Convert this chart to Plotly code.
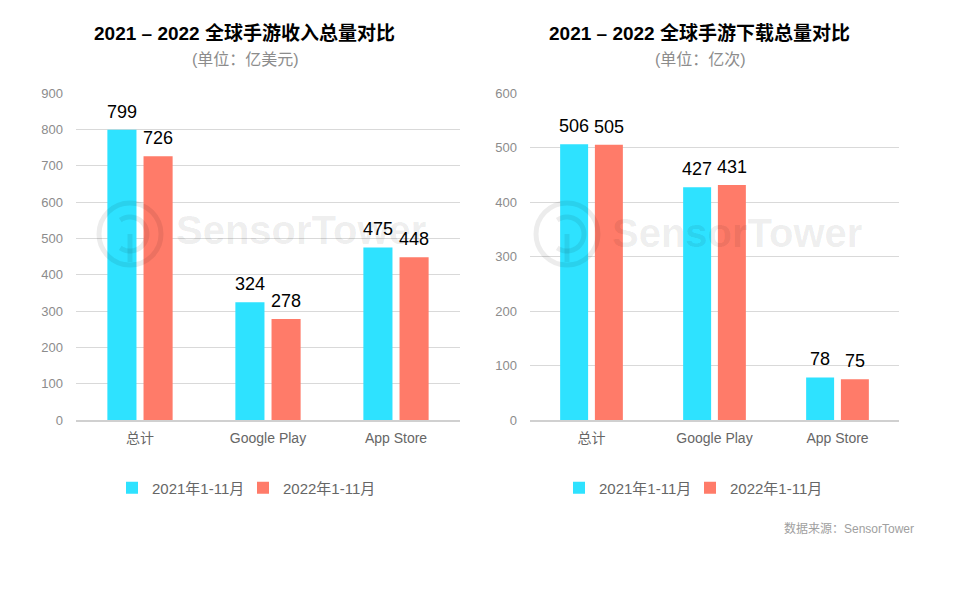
import math
import plotly.graph_objects as go

categories = ["总计", "Google Play", "App Store"]
revenue_2021 = [799, 324, 475]
revenue_2022 = [726, 278, 448]
downloads_2021 = [506, 427, 78]
downloads_2022 = [505, 431, 75]
series_names = ["2021年1-11月", "2022年1-11月"]
rev_ticks = [0, 100, 200, 300, 400, 500, 600, 700, 800, 900]
dl_ticks = [0, 100, 200, 300, 400, 500, 600]

CYAN = "#2EE2FF"
SALMON = "#FF7B69"
FONT = "Arial, 'Liberation Sans', 'Noto Sans CJK SC', sans-serif"
GRAY = "#8c8c8c"
WM = "rgba(0,0,0,0.075)"

W, H = 967, 593
OFF = 8  # page body margin


def px(x):
    return (x - OFF) / W


def py(y):
    return 1 - (y - OFF) / H


fig = go.Figure()

BARGAP, GROUPGAP = 0.435, 0.195
panels = [
    (revenue_2021, revenue_2022, "x", "y", "legend", 384),
    (downloads_2021, downloads_2022, "x2", "y2", "legend2", 369),
]
label_annots = []
for v1, v2, xa, ya, lg, axw in panels:
    slot = axw / 3 * (1 - BARGAP) / 2
    for vals, name, color, sgn in [(v1, series_names[0], CYAN, -1), (v2, series_names[1], SALMON, 1)]:
        fig.add_trace(go.Bar(
            x=categories, y=vals, name=name, marker=dict(color=color, line=dict(width=0)),
            xaxis=xa, yaxis=ya, legend=lg, hoverinfo="x+y",
        ))
        for c, v in zip(categories, vals):
            label_annots.append(dict(
                x=c, y=v, xref=xa, yref=ya, text=str(v), showarrow=False,
                xanchor="center", yanchor="bottom", xshift=sgn * slot / 2, yshift=6,
                font=dict(size=18, color="#000000", family=FONT)))

ydom = [py(420), py(93)]
axis_common = dict(showgrid=False, showline=True, linecolor="#d0d0d0", linewidth=1.5,
                   ticks="", tickfont=dict(size=14, color="#666666", family=FONT),
                   ticklabelstandoff=4, fixedrange=True)
yaxis_common = dict(showgrid=True, gridcolor="#d9d9d9", gridwidth=1, zeroline=False,
                    showline=False, ticks="", tickfont=dict(size=13, color=GRAY, family=FONT),
                    ticklabelstandoff=12, fixedrange=True)
legend_common = dict(orientation="h", xanchor="left", yanchor="middle",
                     font=dict(size=15, color="#666666", family=FONT), itemwidth=30,
                     entrywidth=86, bgcolor="rgba(0,0,0,0)")

fig.update_layout(
    width=W, height=H,
    margin=dict(l=0, r=0, t=0, b=0, autoexpand=False),
    paper_bgcolor="white", plot_bgcolor="white",
    barmode="group", bargap=BARGAP, bargroupgap=GROUPGAP,
    font=dict(family=FONT),
    xaxis=dict(domain=[px(76), px(460)], anchor="y", **axis_common),
    xaxis2=dict(domain=[px(530), px(899)], anchor="y2", **axis_common),
    yaxis=dict(domain=ydom, range=[0, 900], tickvals=rev_ticks, anchor="x", **yaxis_common),
    yaxis2=dict(domain=ydom, range=[0, 600], tickvals=dl_ticks, anchor="x2", **yaxis_common),
    legend=dict(x=px(112), y=py(488), **legend_common),
    legend2=dict(x=px(559), y=py(488), **legend_common),
)

annotations = [
    dict(text="<b>2021 – 2022 全球手游收入总量对比</b>", x=px(244), y=py(33),
         font=dict(size=19, color="#000000")),
    dict(text="(单位：亿美元)", x=px(245), y=py(59), font=dict(size=16, color=GRAY)),
    dict(text="<b>2021 – 2022 全球手游下载总量对比</b>", x=px(699), y=py(33),
         font=dict(size=19, color="#000000")),
    dict(text="(单位：亿次)", x=px(700), y=py(59), font=dict(size=16, color=GRAY)),
    dict(text="数据来源：SensorTower", x=px(916), y=py(528), xanchor="right",
         font=dict(size=12, color="#a0a0a0")),
    # watermarks
    dict(text="<b>SensorTower</b>", x=px(174), y=py(230), xanchor="left",
         font=dict(size=40, color=WM)),
    dict(text="<b>SensorTower</b>", x=px(610), y=py(233), xanchor="left",
         font=dict(size=40, color=WM)),
]
for a in annotations:
    a.setdefault("xanchor", "center")
    a.update(xref="paper", yref="paper", showarrow=False, yanchor="middle")
    a["font"].setdefault("family", FONT)
fig.update_layout(annotations=annotations + label_annots)

shapes = []
for cx, cy in [(130, 234), (567, 234)]:
    r = 31
    shapes.append(dict(type="circle", xref="paper", yref="paper",
                       x0=px(cx - r), x1=px(cx + r), y0=py(cy + r), y1=py(cy - r),
                       line=dict(color=WM, width=5), layer="above"))
    # inner arc open at the bottom
    r2 = 17
    pts = []
    for i in range(0, 41):
        ang = math.radians(125 - i * 250 / 40)
        pts.append((px(cx + r2 * math.cos(ang)), py(cy - r2 * math.sin(ang))))
    path = "M" + " L".join(f"{x:.5f},{y:.5f}" for x, y in pts)
    shapes.append(dict(type="path", xref="paper", yref="paper", path=path,
                       line=dict(color=WM, width=5), layer="above"))
    shapes.append(dict(type="line", xref="paper", yref="paper",
                       x0=px(cx), x1=px(cx), y0=py(cy), y1=py(cy + 28),
                       line=dict(color=WM, width=5), layer="above"))
fig.update_layout(shapes=shapes)

fig.write_html("out.html")
